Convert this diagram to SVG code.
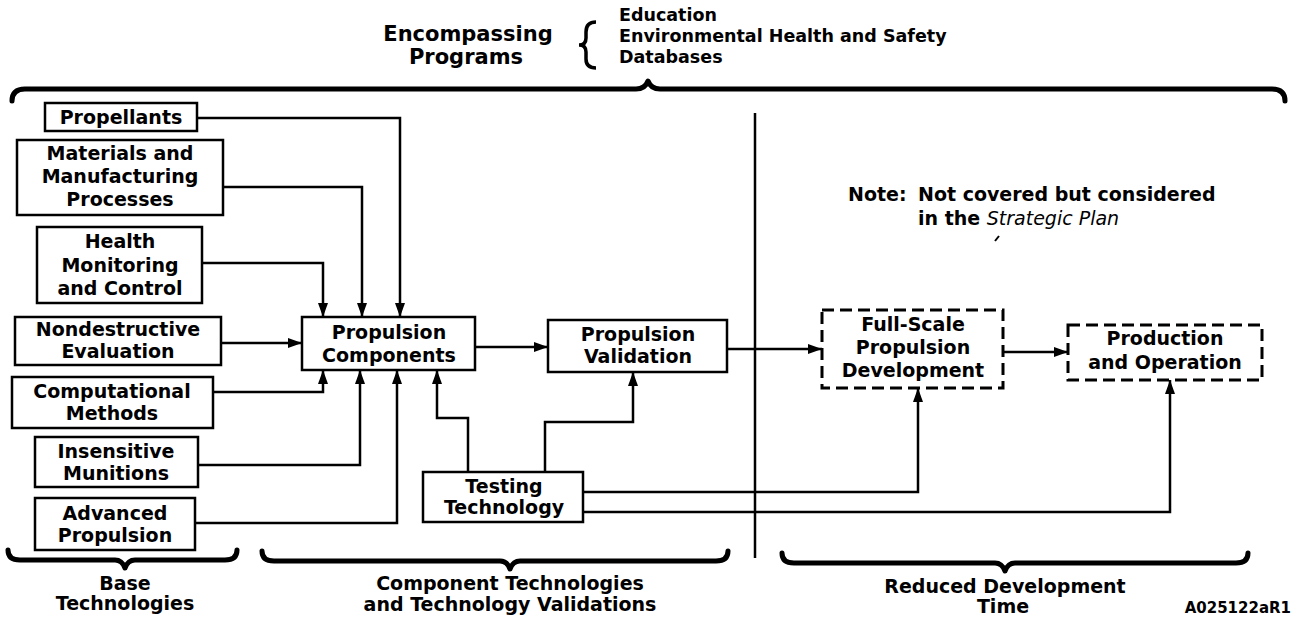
<svg xmlns="http://www.w3.org/2000/svg" width="1297" height="617" viewBox="0 0 1297 617">
<style>
.box{fill:#fff;stroke:#000;stroke-width:2.5}
.dbox{fill:#fff;stroke:#000;stroke-width:3;stroke-dasharray:12 6}
.t{font-family:"DejaVu Sans","Liberation Sans",sans-serif;font-weight:bold;font-size:19px;text-anchor:middle;fill:#000}
.tl{font-family:"DejaVu Sans","Liberation Sans",sans-serif;font-weight:bold;font-size:17.5px;fill:#000}
.it{font-family:"DejaVu Sans","Liberation Sans",sans-serif;font-style:italic;font-weight:normal}
.conn{fill:none;stroke:#000;stroke-width:2.5;marker-end:url(#arr)}
.line{fill:none;stroke:#000;stroke-width:2.5}
.brace{fill:none;stroke:#000;stroke-width:5;stroke-linejoin:round;stroke-linecap:round}
</style>
<defs>
<marker id="arr" markerUnits="userSpaceOnUse" markerWidth="14" markerHeight="10" refX="14" refY="5" orient="auto">
<path d="M0,0 L14,5 L0,10 z" fill="#000"/>
</marker>
</defs>
<rect width="1297" height="617" fill="#fff"/>

<g id="header">
<text class="t" x="468" y="41" style="font-size:21px">Encompassing</text>
<text class="t" x="466" y="64" style="font-size:21px">Programs</text>
<path d="M596,22 Q586,22 586,32 L586,38 Q586,45 579,45 Q586,45 586,52 L586,59 Q586,68 596,68" fill="none" stroke="#000" stroke-width="3.5"/>
<text class="tl" x="619" y="21">Education</text>
<text class="tl" x="619" y="42">Environmental Health and Safety</text>
<text class="tl" x="619" y="63">Databases</text>
</g>

<g id="braces">
<path class="brace" d="M12,101 Q12,89 25,89 L636,89 Q645,89 648,81 Q651,89 660,89 L1272,89 Q1285,89 1285,101"/>
<path class="brace" d="M8,550 Q8,560 20,560 L115,560 Q122,560 125,568 Q128,560 135,560 L225,560 Q237,560 237,550"/>
<path class="brace" d="M262,551 Q262,561 274,561 L500,561 Q507,561 510,569 Q513,561 520,561 L716,561 Q728,561 728,551"/>
<path class="brace" d="M782,553 Q782,563 794,563 L995,563 Q1002,563 1005,571 Q1008,563 1015,563 L1236,563 Q1248,563 1248,553"/>
</g>

<g id="divider">
<path class="line" d="M755,113 V558"/>
</g>

<g id="connectors">
<path class="conn" d="M197,118 H400 V317"/>
<path class="conn" d="M223,187 H362 V317"/>
<path class="conn" d="M202,263 H323 V317"/>
<path class="conn" d="M221,343 H302"/>
<path class="conn" d="M213,392 H323 V370"/>
<path class="conn" d="M198,465 H360 V370"/>
<path class="conn" d="M195,523 H397 V370"/>
<path class="conn" d="M468,472 V418 H437 V370"/>
<path class="conn" d="M545,472 V422 H633 V372"/>
<path class="conn" d="M475,347 H548"/>
<path class="conn" d="M727,349 H822"/>
<path class="conn" d="M1003,352 H1068"/>
<path class="conn" d="M583,492 H918 V388"/>
<path class="conn" d="M583,512 H1170 V380"/>
</g>

<g id="propellants">
<rect class="box" x="45" y="103" width="152" height="28"/>
<text class="t" x="121" y="124">Propellants</text>
</g>
<g id="materials">
<rect class="box" x="17" y="140" width="206" height="75"/>
<text class="t" x="120" y="160">Materials and</text>
<text class="t" x="120" y="183">Manufacturing</text>
<text class="t" x="120" y="206">Processes</text>
</g>
<g id="health">
<rect class="box" x="37" y="227" width="165" height="76"/>
<text class="t" x="120" y="248">Health</text>
<text class="t" x="120" y="272">Monitoring</text>
<text class="t" x="120" y="295">and Control</text>
</g>
<g id="nde">
<rect class="box" x="15" y="317" width="206" height="48"/>
<text class="t" x="118" y="336">Nondestructive</text>
<text class="t" x="118" y="358">Evaluation</text>
</g>
<g id="computational">
<rect class="box" x="12" y="377" width="201" height="51"/>
<text class="t" x="112" y="398">Computational</text>
<text class="t" x="112" y="420">Methods</text>
</g>
<g id="insensitive">
<rect class="box" x="35" y="437" width="163" height="50"/>
<text class="t" x="116" y="458">Insensitive</text>
<text class="t" x="116" y="480">Munitions</text>
</g>
<g id="advanced">
<rect class="box" x="35" y="498" width="160" height="52"/>
<text class="t" x="115" y="520">Advanced</text>
<text class="t" x="115" y="542">Propulsion</text>
</g>

<g id="prop-components">
<rect class="box" x="302" y="317" width="173" height="53"/>
<text class="t" x="389" y="339">Propulsion</text>
<text class="t" x="389" y="362">Components</text>
</g>
<g id="prop-validation">
<rect class="box" x="548" y="320" width="179" height="52"/>
<text class="t" x="638" y="341">Propulsion</text>
<text class="t" x="638" y="363">Validation</text>
</g>
<g id="testing">
<rect class="box" x="423" y="472" width="160" height="50"/>
<text class="t" x="504" y="493">Testing</text>
<text class="t" x="504" y="514">Technology</text>
</g>

<g id="full-scale">
<rect class="dbox" x="822" y="310" width="181" height="78"/>
<text class="t" x="913" y="331">Full-Scale</text>
<text class="t" x="913" y="354">Propulsion</text>
<text class="t" x="913" y="377">Development</text>
</g>
<g id="production">
<rect class="dbox" x="1068" y="325" width="194" height="55"/>
<text class="t" x="1165" y="345">Production</text>
<text class="t" x="1165" y="369">and Operation</text>
</g>

<g id="note">
<text class="t" x="848" y="201" style="text-anchor:start">Note:</text>
<text class="t" x="918" y="201" style="text-anchor:start">Not covered but considered</text>
<text class="t" x="918" y="225" style="text-anchor:start">in the <tspan class="it">Strategic Plan</tspan></text>
<path d="M995,241 L999,236" stroke="#000" stroke-width="2"/>
</g>

<g id="labels">
<text class="t" x="125" y="590">Base</text>
<text class="t" x="125" y="610">Technologies</text>
<text class="t" x="510" y="590">Component Technologies</text>
<text class="t" x="510" y="611">and Technology Validations</text>
<text class="t" x="1005" y="593">Reduced Development</text>
<text class="t" x="1003" y="613">Time</text>
<text class="t" x="1291" y="613" style="text-anchor:end;font-size:15px">A025122aR1</text>
</g>
</svg>
